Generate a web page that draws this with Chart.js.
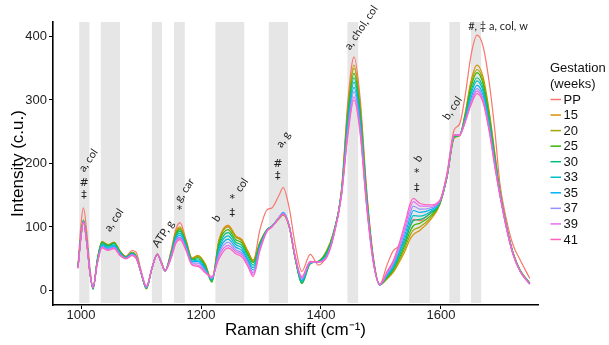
<!DOCTYPE html>
<html>
<head>
<meta charset="utf-8">
<script src="https://cdn.jsdelivr.net/npm/chart.js@4/dist/chart.umd.min.js"></script>
<style>
  html, body { margin: 0; padding: 0; background: #ffffff; }
  #wrap { width: 609px; height: 345px; }
</style>
</head>
<body>
<div id="wrap"><canvas id="c" width="609" height="345"></canvas></div>
<script>
// ---------------- DATA ----------------
const wavenumber = [995,1000,1004,1010,1015, 1020,1027,1035,1045,1055, 1065,1075,1085,1092,1100,
  1109,1118,1127,1134,1140, 1150,1158,1165,1175,1185, 1195,1207,1218,1230,1245,
  1258,1268,1278,1287,1298, 1310,1318,1330,1337,1347, 1357,1368,1382,1396,1410,
  1420,1434,1445,1455,1465, 1476,1487,1498,1510,1520, 1529,1540,1548,1554,1565,
  1582,1598,1610,1622,1631, 1640,1650,1660,1670,1680, 1690,1698,1709,1720,1732, 1748];

const seriesNames = ['PP','15','20','25','30','33','35','37','39','41'];
const seriesColors = ['#F8766D','#D89000','#A3A500','#39B600','#00BF7D','#00BFC4','#00B0F6','#9590FF','#E76BF3','#FF62BC'];

const sPP = [40,105,130,88,35, 5,45,74,70,74, 62,54,63,60,32, 4,35,58,45,31, 62,96,107,80,51,
  55,40,18,78,101, 85,80,62,46,95, 127,130,150,162,130, 72,30,57,40,56, 85,158,300,368,305,
  160,55,10,40,62, 69,78,100,112,110, 122,138,185,253,262, 305,370,402,385,330, 250,170,112,72,48, 19];
const s15 = [38,88,111,74,28, 3,48,77,72,76, 62,53,60,54,28, 3,34,57,44,31, 60,92,100,78,51,
  55,42,16,80,103, 86,80,62,48,76, 96,101,113,119,100, 50,15,43,46,62, 88,156,290,355,295,
  155,52,9,18,28, 42,62,80,88,95, 111,135,178,240,244, 278,330,355,337,285, 215,158,102,60,32, 12];
const s20 = [38,88,111,74,28, 2,48,77,72,76, 62,53,60,54,28, 3,34,57,44,31, 59,90,98,77,50,
  54,41,14,78,100, 84,78,60,46,75, 96,101,113,120,100, 50,12,42,46,64, 89,155,286,350,290,
  153,51,9,19,30, 45,67,86,95,100, 114,136,178,241,244, 276,325,348,331,280, 212,157,102,60,32, 12];
const s25 = [37,87,110,73,28, 2,47,76,71,75, 61,53,59,53,28, 3,34,57,44,31, 58,88,96,75,49,
  52,39,13,74,96, 80,75,57,44,74, 96,101,114,120,101, 51,11,42,46,62, 88,154,280,342,284,
  150,50,9,20,32, 48,72,92,102,106, 117,137,179,242,244, 274,320,343,326,276, 208,156,101,59,31, 11];
const s30 = [37,87,110,73,27, 3,46,75,70,74, 60,52,59,53,28, 4,34,57,44,31, 57,86,93,73,48,
  50,37,15,70,91, 76,71,54,40,72, 95,101,114,121,101, 51,12,43,46,60, 86,153,274,335,278,
  147,49,9,22,34, 52,77,99,110,112, 121,138,179,242,244, 272,314,335,319,270, 205,155,101,59,31, 11];
const s33 = [37,86,109,72,27, 3,45,73,68,72, 59,52,58,52,28, 4,34,57,43,31, 56,84,90,71,46,
  48,35,17,66,86, 72,67,50,36,70, 95,101,115,122,102, 52,14,43,45,58, 85,152,268,328,272,
  144,48,9,23,36, 55,82,106,118,117, 124,139,180,243,245, 270,309,330,314,266, 202,154,100,58,31, 11];
const s35 = [36,86,109,72,27, 4,44,71,66,70, 58,51,57,52,29, 5,34,57,43,31, 54,81,87,69,45,
  46,33,18,62,81, 68,63,47,32,68, 95,101,115,123,102, 52,16,44,45,56, 84,151,262,320,266,
  141,48,9,24,39, 58,88,113,126,123, 127,140,180,244,245, 268,303,323,308,262, 200,153,100,58,30, 11];
const s37 = [36,85,108,71,27, 4,43,69,65,68, 57,51,56,51,29, 5,34,57,43,31, 53,78,84,67,43,
  43,31,19,58,76, 64,59,44,28,66, 94,100,115,122,102, 53,18,44,45,55, 83,150,256,313,260,
  138,47,9,26,41, 62,94,120,133,128, 130,140,181,244,245, 266,298,318,303,258, 197,152,99,58,30, 10];
const s39 = [35,85,108,71,26, 5,42,68,64,67, 56,50,56,51,29, 6,34,57,43,31, 52,76,82,65,41,
  40,29,20,54,71, 61,56,41,25,64, 94,100,114,121,101, 53,20,45,45,54, 82,149,250,305,253,
  135,46,9,28,44, 66,100,128,140,133, 133,141,181,245,245, 265,295,314,299,255, 195,151,99,57,30, 10];
const s41 = [35,84,107,70,26, 5,41,67,63,66, 55,50,55,50,30, 7,34,57,43,31, 50,74,80,63,40,
  38,28,22,50,67, 58,53,38,22,62, 93,100,114,120,101, 54,22,46,45,53, 81,148,246,300,249,
  132,45,9,30,46, 70,106,135,145,137, 135,142,182,245,244, 264,292,310,296,252, 193,150,98,57,30, 10];

const seriesValues = [sPP, s15, s20, s25, s30, s33, s35, s37, s39, s41];

// shaded wavenumber bands (start, end)
const bandStart = [997, 1033, 1118, 1155, 1224, 1313, 1444, 1547, 1614, 1650];
const bandEnd   = [1014, 1065, 1135, 1173, 1272, 1345, 1462, 1582, 1632, 1667];

const xTicks = [1000, 1200, 1400, 1600];
const yTicks = [0, 100, 200, 300, 400];

// peak annotations: text, wavenumber, intensity
const noteText = ['a, col','a, col','ATP, g','g, car','b','col','a, g','a, chol, col','b','b, col','#, \u2021 a, col, w'];
const noteX    = [1012, 1055, 1137, 1172.5, 1226, 1268, 1337, 1467, 1562, 1619, 1695];
const noteY    = [205, 111, 89, 158, 114, 166, 238, 414, 208, 287, 415.5];
const noteRot  = [true, true, true, true, true, true, true, true, true, true, false];

// significance marks: symbol, wavenumber, intensity
const markText = ['#', '\u2021', '*', '\u2021', '*', '\u2021', '#', '\u2021', '*'];
const markX    = [1005, 1005, 1164, 1252, 1252, 1328, 1328, 1559.5, 1559.5];
const markY    = [169, 150.4, 126.8, 122, 143.6, 180.8, 199.2, 161, 185.5];

// ---------------- CHART ----------------
const datasets = seriesNames.map((name, i) => ({
  label: name,
  data: wavenumber.map((w, j) => ({ x: w, y: seriesValues[i][j] })),
  borderColor: seriesColors[i],
  backgroundColor: seriesColors[i],
  borderWidth: 1.2,
  pointRadius: 0,
  fill: false,
  cubicInterpolationMode: 'monotone',
  order: seriesNames.length - i
}));

const bandsPlugin = {
  id: 'bands',
  beforeDatasetsDraw(chart) {
    const { ctx, chartArea, scales: { x } } = chart;
    ctx.save();
    ctx.fillStyle = '#e6e6e6';
    for (let i = 0; i < bandStart.length; i++) {
      const x0 = x.getPixelForValue(bandStart[i]);
      const x1 = x.getPixelForValue(bandEnd[i]);
      ctx.fillRect(x0, chartArea.top, x1 - x0, chartArea.bottom - chartArea.top - 2);
    }
    ctx.restore();
  }
};

const notesPlugin = {
  id: 'notes',
  afterDatasetsDraw(chart) {
    const { ctx, scales: { x, y } } = chart;
    ctx.save();
    ctx.fillStyle = '#222';
    ctx.textAlign = 'center';
    ctx.textBaseline = 'middle';
    ctx.font = '11px Lato, "Open Sans", sans-serif';
    for (let i = 0; i < noteText.length; i++) {
      const px = x.getPixelForValue(noteX[i]);
      const py = y.getPixelForValue(noteY[i]);
      ctx.save();
      ctx.translate(px, py);
      if (noteRot[i]) ctx.rotate(-56 * Math.PI / 180);
      ctx.fillText(noteText[i], 0, 0);
      ctx.restore();
    }
    ctx.font = '11px "DejaVu Sans", sans-serif';
    for (let i = 0; i < markText.length; i++) {
      ctx.fillText(markText[i], x.getPixelForValue(markX[i]), y.getPixelForValue(markY[i]));
    }
    ctx.restore();
  }
};

const legendPlugin = {
  id: 'customLegend',
  afterDraw(chart) {
    const { ctx } = chart;
    ctx.save();
    ctx.fillStyle = '#111';
    ctx.textAlign = 'left';
    ctx.textBaseline = 'middle';
    ctx.font = '13px "Liberation Sans", Arial, sans-serif';
    ctx.fillText('Gestation', 550, 68);
    ctx.fillText('(weeks)', 550, 84);
    chart.data.datasets.forEach((ds, i) => {
      const yy = 99.5 + i * 15.55;
      ctx.strokeStyle = ds.borderColor;
      ctx.lineWidth = 1.5;
      ctx.beginPath();
      ctx.moveTo(550.5, yy);
      ctx.lineTo(561, yy);
      ctx.stroke();
      ctx.fillStyle = '#111';
      ctx.fillText(ds.label, 563.5, yy + 0.5);
    });
    ctx.restore();
  }
};

new Chart(document.getElementById('c'), {
  type: 'line',
  data: { datasets },
  plugins: [bandsPlugin, notesPlugin, legendPlugin],
  options: {
    responsive: false,
    animation: false,
    devicePixelRatio: 1,
    layout: { padding: { left: 0, right: 71, top: 22, bottom: 0 } },
    plugins: { legend: { display: false }, tooltip: { enabled: false } },
    scales: {
      x: {
        type: 'linear',
        min: 953.3,
        max: 1761.7,
        afterFit: s => { s.height = 40; },
        afterBuildTicks: s => { s.ticks = xTicks.map(v => ({ value: v })); },
        grid: { display: true, drawOnChartArea: false, drawTicks: true, tickLength: 4, color: '#000', lineWidth: 1 },
        border: { display: true, color: '#000', width: 1.6 },
        ticks: { color: '#222', padding: -1, maxRotation: 0, callback: v => String(v),
                 font: { family: '"Liberation Sans", Arial, sans-serif', size: 13 } },
        title: { display: true, text: 'Raman shift (cm\u207B\u00B9)', color: '#000',
                 font: { family: '"Liberation Sans", Arial, sans-serif', size: 17, lineHeight: 1.2 },
                 padding: { top: 0, bottom: 4 } }
      },
      y: {
        type: 'linear',
        min: -22.83,
        max: 422.8,
        afterFit: s => { s.width = 53; },
        afterBuildTicks: s => { s.ticks = yTicks.map(v => ({ value: v })); },
        grid: { display: true, drawOnChartArea: false, drawTicks: true, tickLength: 4, color: '#000', lineWidth: 1 },
        border: { display: true, color: '#000', width: 1.6 },
        ticks: { color: '#222', padding: 2, callback: v => String(v),
                 font: { family: '"Liberation Sans", Arial, sans-serif', size: 13 } },
        title: { display: true, text: 'Intensity (c.u.)', color: '#000',
                 font: { family: '"Liberation Sans", Arial, sans-serif', size: 17, lineHeight: 1.2 },
                 padding: { top: 8, bottom: 0 } }
      }
    }
  }
});
</script>
</body>
</html>
